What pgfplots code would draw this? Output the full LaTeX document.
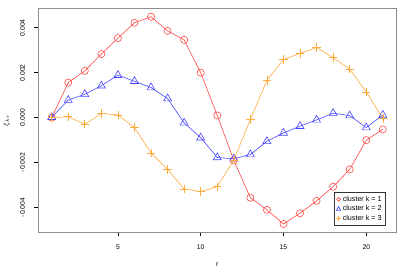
\documentclass[border=0pt]{standalone}
\usepackage{pgfplots}
\pgfplotsset{compat=1.18}
\usepackage{fontspec}
\setmainfont{Liberation Sans}
\definecolor{cred}{RGB}{255,70,70}
\definecolor{cblue}{RGB}{70,70,255}
\definecolor{corange}{RGB}{255,170,60}
\pgfplotsset{smalllegend/.style={legend image code/.code={\draw[##1, mark options={scale=0.55}] plot coordinates {(0.18cm,0cm)};}}}
\begin{document}
\begin{tikzpicture}
\begin{axis}[
  scale only axis, width=360bp, height=225bp,
  xmin=0.2, xmax=21.8, ymin=-0.005106, ymax=0.004836,
  xtick={5,10,15,20}, ytick={-0.004,-0.002,0,0.002,0.004},
  xtick pos=bottom, ytick pos=left,
  tick align=outside, major tick length=4bp,
  tick style={black, line width=0.5bp},
  axis line style={gray!90, line width=1bp},
  scaled y ticks=false,
  yticklabel style={rotate=90, anchor=south, /pgf/number format/fixed, /pgf/number format/precision=3, /pgf/number format/fixed zerofill},
  /pgf/number format/assume math mode=true,
  ticklabel style={font=\fontsize{6.8bp}{8bp}\selectfont},
  yticklabel shift=6bp, xticklabel shift=5bp,
  xlabel={r}, ylabel={$\xi_{kr}$},
  label style={font=\fontsize{6.8bp}{8bp}\selectfont},
  xlabel style={yshift=-6bp},
  ylabel style={yshift=4bp},
  legend pos=south east,
  smalllegend,
  legend style={font=\fontsize{7.2bp}{8.5bp}\selectfont, draw=black!80, line width=0.6bp, inner sep=1.5bp, row sep=-1bp, cells={anchor=west}, legend cell align=left},
  every axis plot/.append style={line width=0.6bp},
]
\addplot[cred, mark=o, mark size=3.6bp, mark options={line width=0.6bp}]
coordinates {(1,0)(2,0.00156)(3,0.00208)(4,0.00283)(5,0.00354)(6,0.00422)(7,0.00449)(8,0.00386)(9,0.00346)(10,0.00200)(11,0.0001)(12,-0.00190)(13,-0.00356)(14,-0.0041)(15,-0.00473)(16,-0.00425)(17,-0.0037)(18,-0.00307)(19,-0.0023)(20,-0.0010)(21,-0.00052)};
\addlegendentry{cluster k = 1}
\addplot[cblue, mark=triangle, mark size=4.6bp, mark options={line width=0.6bp}]
coordinates {(1,0.00002)(2,0.00078)(3,0.00104)(4,0.00142)(5,0.00189)(6,0.00162)(7,0.00134)(8,0.00085)(9,-0.00023)(10,-0.00089)(11,-0.00177)(12,-0.00183)(13,-0.00164)(14,-0.00105)(15,-0.00068)(16,-0.00038)(17,-0.0001)(18,0.0002)(19,0.00009)(20,-0.00044)(21,0.00012)};
\addlegendentry{cluster k = 2}
\addplot[corange, mark=+, mark size=4.2bp, mark options={line width=0.6bp}]
coordinates {(1,0)(2,0.00004)(3,-0.00029)(4,0.00018)(5,0.00012)(6,-0.00044)(7,-0.00157)(8,-0.0023)(9,-0.00317)(10,-0.00329)(11,-0.00307)(12,-0.00189)(13,-0.00008)(14,0.00166)(15,0.00259)(16,0.00286)(17,0.00312)(18,0.00267)(19,0.00215)(20,0.00115)(21,-0.00003)};
\addlegendentry{cluster k = 3}
\end{axis}
\path ([shift={(-36bp,-36bp)}]current axis.south west) rectangle ([shift={(9bp,9bp)}]current axis.north east);
\end{tikzpicture}
\end{document}
